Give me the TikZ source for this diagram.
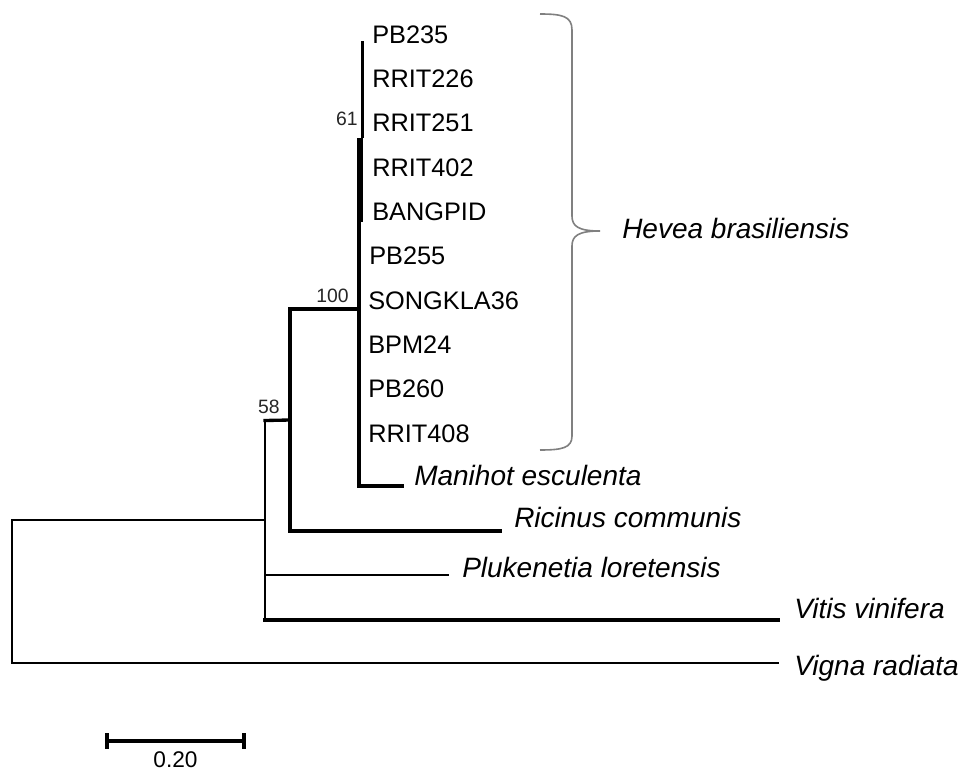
\documentclass[tikz,border=0pt]{standalone}
\usepackage{fontspec}
\setmainfont{Liberation Sans}
\begin{document}
\begin{tikzpicture}[x=0.75pt,y=-0.75pt,
  br/.style={draw=black,line join=miter,line cap=rect},
  tip/.style={anchor=base west,inner sep=0pt,font=\fontsize{19}{22}\selectfont},
  sp/.style={anchor=base west,inner sep=0pt,font=\fontsize{21}{24}\selectfont\itshape},
  bs/.style={anchor=base east,inner sep=0pt,text=black!85,font=\fontsize{14.5}{16}\selectfont}]
\useasboundingbox (0,0) rectangle (965,771);
\fill[white] (0,0) rectangle (965,771);
% internal nodes
\coordinate (root) at (12,520);
\coordinate (n58) at (265,520);
\coordinate (n100) at (290,420);
\coordinate (nH) at (359,309);
% tip ends
\coordinate (eMan) at (402,486);
\coordinate (eRic) at (500,531);
\coordinate (ePlu) at (448,575);
\coordinate (eVit) at (778,620);
\coordinate (eVig) at (778,663);
% labels
\node[tip] (t1) at (372,43.3) {PB235};
\node[tip] (t2) at (372,87.6) {RRIT226};
\node[tip] (t3) at (372,131.9) {RRIT251};
\node[tip] (t4) at (372,176.2) {RRIT402};
\node[tip] (t5) at (372,220.5) {BANGPID};
\node[tip] (t6) at (369,264.8) {PB255};
\node[tip] (t7) at (368,309.1) {SONGKLA36};
\node[tip] (t8) at (368,353.4) {BPM24};
\node[tip] (t9) at (368,397.7) {PB260};
\node[tip] (t10) at (368,442) {RRIT408};
\node[sp] (man) at (414,485) {Manihot esculenta};
\node[sp] (ric) at (514,527) {Ricinus communis};
\node[sp] (plu) at (462,577) {Plukenetia loretensis};
\node[sp] (vit) at (794,618) {Vitis vinifera};
\node[sp] (vig) at (794,675) {Vigna radiata};
\node[sp] (hev) at (622,238) {Hevea brasiliensis};
% bootstrap values
\node[bs] (b61) at (358,125) {61};
\node[bs] (b100) at (349,302.7) {100};
\node[bs] (b58) at (280,413) {58};
% root
\draw[br,line width=2pt] (n58) -- (root) |- (eVig);
% node 58
\draw[br,line width=2.1pt] (265,420) -- (265,620);
\draw[br,line width=2.5pt] (265,420.5) -- (n100);
\draw[br,line width=1.9pt] (265,575) -- (ePlu);
\draw[br,line width=2.9pt] (265,620) -- (eVit);
% node 100
\draw[br,line width=2.9pt] (290,309) -- (290,531) -- (eRic);
\draw[br,line width=2.5pt] (290,309) -- (nH);
% Hevea clade
\draw[br,line width=2.4pt] (359,222) -- (359,486) -- (eMan);
\draw[line width=5pt] (360,138) -- (360,222);
\draw[line width=1.9pt] (362.3,41) -- (362.3,138);
% brace
\draw[black!50,line width=1.2pt] (540,14) .. controls (562,14) and (572,16) .. (572,30) -- (572,216)
  .. controls (572,226) and (578,231) .. (600,231)
  .. controls (578,231) and (572,236) .. (572,246) -- (572,436)
  .. controls (572,448) and (562,450) .. (540,450);
% scale bar
\coordinate (s1) at (107,741);
\coordinate (s2) at (244,741);
\draw[line width=2.6pt] (s1) -- (s2);
\draw[line width=2.6pt] (107,733) -- (107,749);
\draw[line width=2.6pt] (244,733) -- (244,749);
\node[anchor=base,inner sep=0pt,font=\fontsize{17}{20}\selectfont] (sl) at (175.5,767) {0.20};
\end{tikzpicture}
\end{document}
